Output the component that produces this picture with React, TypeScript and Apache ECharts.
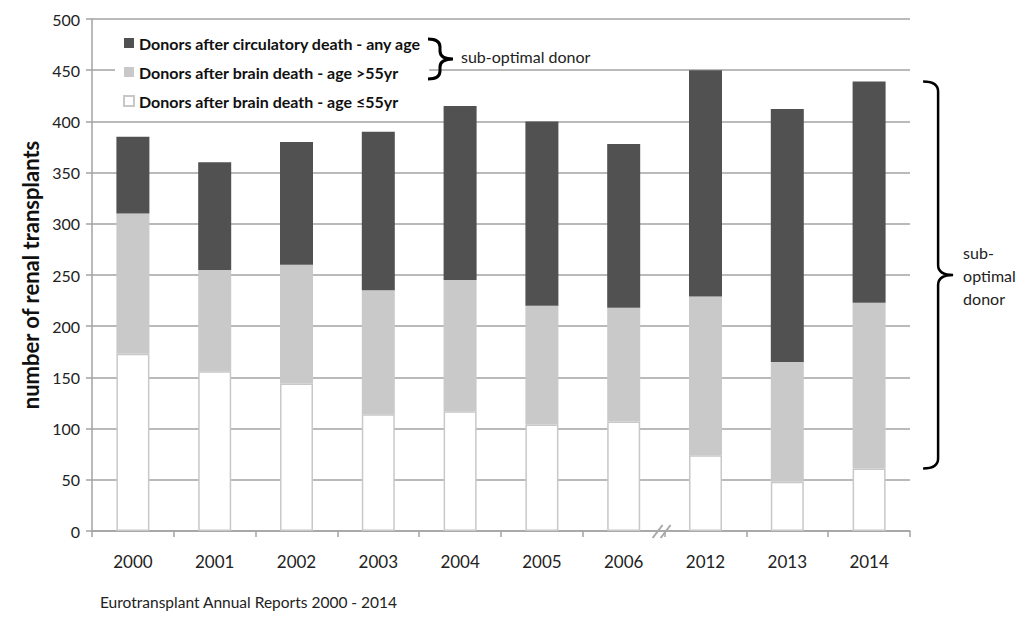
import React, { useEffect, useRef } from "react";
import * as echarts from "echarts";

// ---- data ----
const years = ["2000", "2001", "2002", "2003", "2004", "2005", "2006", "2012", "2013", "2014"];
const dbdYoung = [173, 156, 144, 114, 117, 104, 107, 74, 48, 61]; // brain death, age <=55
const dbdOld = [137, 99, 116, 121, 128, 116, 111, 155, 117, 162]; // brain death, age >55
const dcd = [75, 105, 120, 155, 170, 180, 160, 221, 247, 216]; // circulatory death, any age
const yMin = 0;
const yMax = 500;
const yInterval = 50;
const nameDcd = "Donors after circulatory death - any age";
const nameOld = "Donors after brain death - age >55yr";
const nameYoung = "Donors after brain death - age \u226455yr";
const yAxisTitle = "number of renal transplants";
const sourceNote = "Eurotransplant Annual Reports 2000 - 2014";
const braceLabel = "sub-optimal donor";
const braceLabelBig = "sub-\noptimal\ndonor";

const FONT = "Lato, 'Open Sans', sans-serif";
const GRID = "#a3a3a3";

function bracePath(x0: number, xv: number, xt: number, y1: number, y2: number, r: number) {
  const ym = (y1 + y2) / 2;
  return (
    `M${x0} ${y1} Q${xv} ${y1} ${xv} ${y1 + r} L${xv} ${ym - r} ` +
    `Q${xv} ${ym} ${xt} ${ym} Q${xv} ${ym} ${xv} ${ym + r} ` +
    `L${xv} ${y2 - r} Q${xv} ${y2} ${x0} ${y2}`
  );
}

export default function App() {
  const ref = useRef<HTMLDivElement>(null);

  useEffect(() => {
    if (!ref.current) return;
    const chart = echarts.init(ref.current, undefined, { renderer: "svg" });

    const option: any = {
      animation: false,
      backgroundColor: "#ffffff",
      textStyle: { fontFamily: FONT },
      grid: { left: 92, right: 114, top: 19, bottom: 94, outerBoundsMode: "none" },
      legend: {
        orient: "vertical",
        left: 115,
        top: 28,
        padding: [6, 8, 6, 8],
        backgroundColor: "#ffffff",
        itemWidth: 10,
        itemHeight: 10,
        itemGap: 11,
        icon: "rect",
        data: [nameDcd, nameOld, nameYoung],
        textStyle: {
          fontFamily: FONT,
          fontWeight: "bold",
          fontSize: 16,
          lineHeight: 18,
          color: "#111",
        },
      },
      xAxis: {
        type: "category",
        data: years,
        axisLine: { show: true, lineStyle: { color: GRID, width: 1.5 } },
        axisTick: { show: true, alignWithLabel: false, length: 6, lineStyle: { color: GRID, width: 1.5 } },
        axisLabel: { fontSize: 17, color: "#222", margin: 22, fontFamily: FONT },
        splitLine: { show: false },
      },
      yAxis: {
        type: "value",
        min: yMin,
        max: yMax,
        interval: yInterval,
        name: yAxisTitle,
        nameLocation: "middle",
        nameGap: 49,
        nameTextStyle: { fontSize: 22, fontWeight: "bold", color: "#111", fontFamily: FONT },
        axisLine: { show: true, lineStyle: { color: GRID, width: 1.5 } },
        axisTick: { show: true, length: 6, lineStyle: { color: GRID, width: 1.5 } },
        axisLabel: { fontSize: 16, color: "#222", margin: 12, fontFamily: FONT },
        splitLine: { show: true, lineStyle: { color: GRID, width: 1.5 } },
      },
      series: [
        {
          name: nameYoung,
          type: "bar",
          stack: "total",
          barWidth: 33,
          data: dbdYoung,
          itemStyle: { color: "#ffffff", borderColor: "#c8c8c8", borderWidth: 1.5 },
        },
        {
          name: nameOld,
          type: "bar",
          stack: "total",
          barWidth: 33,
          data: dbdOld,
          itemStyle: { color: "#c9c9c9" },
        },
        {
          name: nameDcd,
          type: "bar",
          stack: "total",
          barWidth: 33,
          data: dcd,
          itemStyle: { color: "#515151" },
        },
      ],
    };
    chart.setOption(option);

    // annotation positions derived from the axes
    const last = years.length - 1;
    const cxLast = chart.convertToPixel({ xAxisIndex: 0 }, last) as number;
    const totalLast = dbdYoung[last] + dbdOld[last] + dcd[last];
    const yTop = chart.convertToPixel({ yAxisIndex: 0 }, totalLast) as number;
    const yBot = chart.convertToPixel({ yAxisIndex: 0 }, dbdYoung[last]) as number;
    const x2006 = chart.convertToPixel({ xAxisIndex: 0 }, 6) as number;
    const x2012 = chart.convertToPixel({ xAxisIndex: 0 }, 7) as number;
    const xBreak = (x2006 + x2012) / 2;
    const yZero = chart.convertToPixel({ yAxisIndex: 0 }, 0) as number;

    echarts.graphic.registerShape(
      "braceSmall",
      echarts.graphic.extendPath(bracePath(428, 440, 453, 39, 79, 8), {})
    );
    echarts.graphic.registerShape(
      "braceBig",
      echarts.graphic.extendPath(
        bracePath(cxLast + 54, cxLast + 69, cxLast + 84, yTop, yBot, 10),
        {}
      )
    );

    chart.setOption({
      graphic: [
        {
          type: "braceSmall",
          x: 0,
          y: 0,
          z: 100,
          style: { fill: "none", stroke: "#000", lineWidth: 3 },
        },
        {
          type: "text",
          left: 461,
          top: 48,
          z: 100,
          style: { text: braceLabel, fontSize: 16, fontFamily: FONT, fill: "#222" },
        },
        {
          type: "braceBig",
          x: 0,
          y: 0,
          z: 100,
          style: { fill: "none", stroke: "#000", lineWidth: 2.5 },
        },
        {
          type: "text",
          x: cxLast + 94,
          y: (yTop + yBot) / 2,
          z: 100,
          style: {
            text: braceLabelBig,
            fontSize: 16,
            lineHeight: 23,
            fontFamily: FONT,
            fill: "#222",
            verticalAlign: "middle",
            align: "left",
          },
        },
        {
          type: "line",
          z: 100,
          shape: { x1: xBreak - 12, y1: yZero + 7, x2: xBreak - 2, y2: yZero - 6 },
          style: { stroke: "#a8a8a8", lineWidth: 2 },
        },
        {
          type: "line",
          z: 100,
          shape: { x1: xBreak - 4, y1: yZero + 7, x2: xBreak + 6, y2: yZero - 6 },
          style: { stroke: "#a8a8a8", lineWidth: 2 },
        },
        {
          type: "text",
          left: 100,
          top: 594,
          z: 100,
          style: { text: sourceNote, fontSize: 15.5, fontFamily: FONT, fill: "#222" },
        },
      ],
    });

    return () => chart.dispose();
  }, []);

  return <div ref={ref} style={{ width: 1024, height: 625, position: "absolute", left: 0, top: 0 }} />;
}
